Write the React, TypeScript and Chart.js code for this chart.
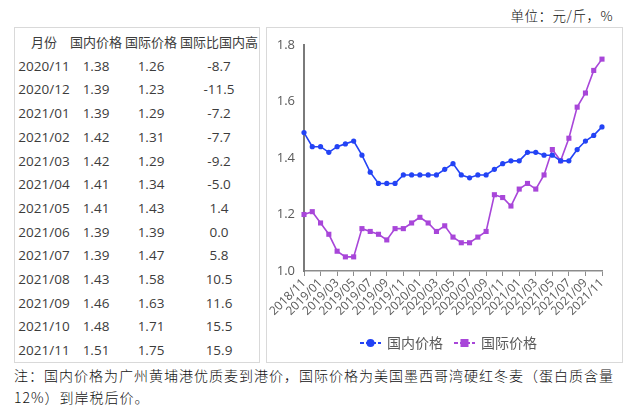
import React, { useEffect, useRef } from "react";
import { Chart, registerables } from "chart.js";

Chart.register(...registerables);

// ---- Chart data ----
const chartMonths = [
  "2018/11", "2018/12",
  "2019/01", "2019/02", "2019/03", "2019/04", "2019/05", "2019/06",
  "2019/07", "2019/08", "2019/09", "2019/10", "2019/11", "2019/12",
  "2020/01", "2020/02", "2020/03", "2020/04", "2020/05", "2020/06",
  "2020/07", "2020/08", "2020/09", "2020/10", "2020/11", "2020/12",
  "2021/01", "2021/02", "2021/03", "2021/04", "2021/05", "2021/06",
  "2021/07", "2021/08", "2021/09", "2021/10", "2021/11",
];

const domesticPrice = [
  1.49, 1.44, 1.44, 1.42, 1.44, 1.45, 1.46, 1.41, 1.35, 1.31, 1.31, 1.31,
  1.34, 1.34, 1.34, 1.34, 1.34, 1.36, 1.38, 1.34, 1.33, 1.34, 1.34, 1.36,
  1.38, 1.39, 1.39, 1.42, 1.42, 1.41, 1.41, 1.39, 1.39, 1.43, 1.46, 1.48, 1.51,
];

const internationalPrice = [
  1.20, 1.21, 1.17, 1.13, 1.07, 1.05, 1.05, 1.15, 1.14, 1.13, 1.11, 1.15,
  1.15, 1.17, 1.19, 1.17, 1.14, 1.16, 1.12, 1.10, 1.10, 1.12, 1.14, 1.27,
  1.26, 1.23, 1.29, 1.31, 1.29, 1.34, 1.43, 1.39, 1.47, 1.58, 1.63, 1.71, 1.75,
];

const seriesNames = ["国内价格", "国际价格"];

const yMin = 1.0;
const yMax = 1.8;
const yStep = 0.2;

// ---- Table data ----
const tableHeaders = ["月份", "国内价格", "国际价格", "国际比国内高"];
const tableMonths = [
  "2020/11", "2020/12", "2021/01", "2021/02", "2021/03", "2021/04", "2021/05",
  "2021/06", "2021/07", "2021/08", "2021/09", "2021/10", "2021/11",
];
const tableDomestic = ["1.38", "1.39", "1.39", "1.42", "1.42", "1.41", "1.41", "1.39", "1.39", "1.43", "1.46", "1.48", "1.51"];
const tableInternational = ["1.26", "1.23", "1.29", "1.31", "1.29", "1.34", "1.43", "1.39", "1.47", "1.58", "1.63", "1.71", "1.75"];
const tableDiff = ["-8.7", "-11.5", "-7.2", "-7.7", "-9.2", "-5.0", "1.4", "0.0", "5.8", "10.5", "11.6", "15.5", "15.9"];

const unitText = "单位：元/斤，%";
const noteLine1 = "注：国内价格为广州黄埔港优质麦到港价，国际价格为美国墨西哥湾硬红冬麦（蛋白质含量";
const noteLine2 = "12%）到岸税后价。";

const BLUE = "#2343f5";
const PURPLE = "#a846d9";
const FONT = '"Open Sans", "Noto Sans CJK SC", sans-serif';

const legendPlugin = {
  id: "customLegend",
  afterDraw(chart: any) {
    const ctx = chart.ctx;
    const ds = chart.data.datasets;
    ctx.save();
    ctx.font = `14px ${FONT}`;
    const symW = 21;
    const gap = 6;
    const itemGap = 11;
    const widths = ds.map((d: any) => symW + gap + ctx.measureText(d.label).width);
    const total = widths.reduce((a: number, b: number) => a + b, 0) + itemGap * (ds.length - 1);
    let x = (chart.width - total) / 2 + 4;
    const y = chart.chartArea.bottom + 72;
    ds.forEach((d: any, i: number) => {
      ctx.strokeStyle = d.borderColor;
      ctx.lineWidth = 2;
      ctx.setLineDash([4, 2]);
      ctx.beginPath();
      ctx.moveTo(x, y);
      ctx.lineTo(x + symW, y);
      ctx.stroke();
      ctx.setLineDash([]);
      ctx.fillStyle = d.pointBackgroundColor;
      const cx = x + symW / 2;
      if (d.pointStyle === "rect") {
        ctx.fillRect(cx - 4, y - 4, 8, 8);
      } else {
        ctx.beginPath();
        ctx.arc(cx, y, 4, 0, Math.PI * 2);
        ctx.fill();
      }
      ctx.fillStyle = "#595959";
      ctx.textBaseline = "middle";
      ctx.textAlign = "left";
      ctx.fillText(d.label, x + symW + gap, y + 1);
      x += widths[i] + itemGap;
    });
    ctx.restore();
  },
};

function LineChart() {
  const ref = useRef<HTMLCanvasElement | null>(null);
  useEffect(() => {
    if (!ref.current) return;
    const chart = new Chart(ref.current, {
      type: "line",
      data: {
        labels: chartMonths,
        datasets: [
          {
            label: seriesNames[0],
            data: domesticPrice,
            borderColor: BLUE,
            backgroundColor: BLUE,
            pointBackgroundColor: BLUE,
            pointBorderColor: BLUE,
            pointStyle: "circle",
            pointRadius: 2.6,
            pointBorderWidth: 0,
            borderWidth: 1.6,
            tension: 0,
          },
          {
            label: seriesNames[1],
            data: internationalPrice,
            borderColor: PURPLE,
            backgroundColor: PURPLE,
            pointBackgroundColor: PURPLE,
            pointBorderColor: PURPLE,
            pointStyle: "rect",
            pointRadius: 3.6,
            pointBorderWidth: 0,
            borderWidth: 1.6,
            tension: 0,
          },
        ],
      },
      options: {
        responsive: false,
        animation: false,
        events: [],
        layout: { padding: { top: 17, right: 20, left: 0, bottom: 0 } },
        plugins: {
          legend: { display: false },
          tooltip: { enabled: false },
        },
        scales: {
          x: {
            type: "category",
            offset: false,
            grid: {
              drawOnChartArea: false,
              offset: false,
              tickLength: 5,
              tickColor: (c: any) => (c.index % 2 === 0 ? "#8c8c8c" : "rgba(0,0,0,0)"),
              tickWidth: 1,
            },
            border: { color: "#8c8c8c", width: 1.5 },
            ticks: {
              autoSkip: false,
              minRotation: 45,
              maxRotation: 45,
              padding: 0,
              color: "#595959",
              font: { size: 12, family: FONT },
              callback: (_v: any, i: number) => (i % 2 === 0 ? chartMonths[i] : ""),
            },
            afterFit: (s: any) => {
              s.height = 90;
            },
          },
          y: {
            min: yMin,
            max: yMax,
            grid: { drawOnChartArea: false, drawTicks: false },
            border: { color: "#7a7a7a", width: 2 },
            ticks: {
              stepSize: yStep,
              padding: 9,
              color: "#595959",
              font: { size: 13, family: FONT },
              callback: (v: any) => Number(v).toFixed(1),
            },
            afterFit: (s: any) => {
              s.width = 37;
            },
          },
        },
      },
      plugins: [legendPlugin],
    });
    return () => chart.destroy();
  }, []);
  return (
    <canvas
      ref={ref}
      width={355}
      height={333}
      style={{ position: "absolute", left: 267, top: 28, width: 355, height: 333 }}
    />
  );
}

const colCenters = [29, 81, 136, 204];
const colWidth = 80;

function DataTable() {
  const rows: string[][] = [tableHeaders];
  tableMonths.forEach((m, i) => rows.push([m, tableDomestic[i], tableInternational[i], tableDiff[i]]));
  return (
    <div
      style={{
        position: "absolute",
        left: 14,
        top: 27,
        width: 246,
        height: 336,
        boxSizing: "border-box",
        border: "1px solid #d9d9d9",
        fontFamily: FONT,
        fontSize: 13.5,
        color: "#3c3c3c",
      }}
    >
      {rows.map((r, ri) => (
        <div key={ri} style={{ position: "absolute", left: 0, top: 3 + ri * 23.7, height: 23.7, width: "100%" }}>
          {r.map((cell, ci) => (
            <div
              key={ci}
              style={{
                position: "absolute",
                left: colCenters[ci] - colWidth / 2,
                width: colWidth,
                top: 0,
                height: 23.7,
                lineHeight: "23.7px",
                textAlign: "center",
                whiteSpace: "nowrap",
                fontSize: ri === 0 ? 13 : 13.5,
              }}
            >
              {cell}
            </div>
          ))}
        </div>
      ))}
    </div>
  );
}

export default function App() {
  return (
    <div
      style={{
        position: "fixed",
        left: 0,
        top: 0,
        width: 640,
        height: 408,
        background: "#ffffff",
        overflow: "hidden",
      }}
    >
      <div
        style={{
          position: "absolute",
          right: 27,
          top: 5,
          fontFamily: '"Noto Sans CJK SC", sans-serif',
          fontSize: 13.5,
          fontWeight: 300,
          color: "#111",
          letterSpacing: 0.5,
          whiteSpace: "nowrap",
        }}
      >
        {unitText}
      </div>
      <DataTable />
      <div
        style={{
          position: "absolute",
          left: 266,
          top: 27,
          width: 357,
          height: 336,
          boxSizing: "border-box",
          border: "1px solid #d9d9d9",
        }}
      />
      <LineChart />
      <div
        style={{
          position: "absolute",
          left: 14,
          top: 364,
          fontFamily: '"Noto Sans CJK SC", sans-serif',
          fontSize: 14,
          fontWeight: 300,
          lineHeight: "22px",
          letterSpacing: 1,
          color: "#111",
          whiteSpace: "nowrap",
        }}
      >
        <div>{noteLine1}</div>
        <div>{noteLine2}</div>
      </div>
    </div>
  );
}
